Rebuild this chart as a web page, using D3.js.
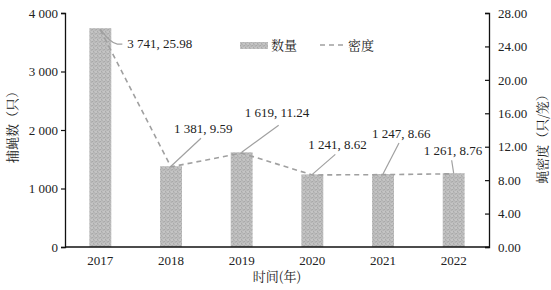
<!DOCTYPE html>
<html><head><meta charset="utf-8">
<script src="https://cdn.jsdelivr.net/npm/d3@7"></script>
<style>
body{margin:0;background:#fff;}
svg{display:block;}
.num{font-family:"Liberation Serif","Times New Roman",serif;font-size:13px;fill:#222;}
.cjk{font-family:"Noto Serif CJK SC","Noto Sans CJK SC",serif;font-size:13px;fill:#222;}
</style></head>
<body><svg id="c" width="551" height="290"></svg>
<script>
const years = ["2017","2018","2019","2020","2021","2022"];
const counts = [3741,1381,1619,1241,1247,1261];
const density = [25.98,9.59,11.24,8.62,8.66,8.76];
const leftTicks = [0,1000,2000,3000,4000];
const rightTicks = [0,4,8,12,16,20,24,28];
// label anchor offsets (layout) relative to the point
const labelPos = [[27,20],[3,-33],[3,-35],[-4,-25],[-11,-36],[-30,-18]];
const leaderEnd = [[17,16],[30,-28],[37,-27],[23,-20],[16,-31],[-2,-13]];

const svg = d3.select("#c");
const M = {l:65, r:489, t:13, b:247};
const x = d3.scaleBand().domain(years).range([M.l,M.r]).paddingInner(0.69).paddingOuter(0.345);
const yL = d3.scaleLinear().domain([0,4000]).range([M.b,M.t]);
const yR = d3.scaleLinear().domain([0,28]).range([M.b,M.t]);

const defs = svg.append("defs");
const pat = defs.append("pattern").attr("id","hatch").attr("patternUnits","userSpaceOnUse")
  .attr("width",4).attr("height",4);
pat.append("rect").attr("width",4).attr("height",4).attr("fill","#c4c4c4");
pat.append("path").attr("d","M2,0.6 L3.4,2 L2,3.4 L0.6,2 Z").attr("fill","#f4f4f4").attr("stroke","#7a7a7a").attr("stroke-width",0.7);

const fmt = v => d3.format(",")(v).replace(/,/g," ");

// bars
svg.append("g").selectAll("rect").data(counts).join("rect")
  .attr("x",(d,i)=>x(years[i])).attr("width",x.bandwidth())
  .attr("y",d=>yL(d)).attr("height",d=>M.b-yL(d))
  .attr("fill","url(#hatch)");

// line
const line = d3.line().x((d,i)=>x(years[i])+x.bandwidth()/2).y(d=>yR(d));
svg.append("path").datum(density).attr("d",line).attr("fill","none")
  .attr("stroke","#a0a0a0").attr("stroke-width",1.6).attr("stroke-dasharray","5,4");

// axes
const gL = svg.append("g").attr("transform",`translate(${M.l},0)`)
  .call(d3.axisLeft(yL).tickValues(leftTicks).tickSize(4).tickPadding(3).tickFormat(fmt));
const gR = svg.append("g").attr("transform",`translate(${M.r},0)`)
  .call(d3.axisRight(yR).tickValues(rightTicks).tickSize(-4).tickPadding(9).tickFormat(d3.format(".2f")));
const gB = svg.append("g").attr("transform",`translate(0,${M.b})`)
  .call(d3.axisBottom(x).tickSize(0).tickPadding(9));
[gL,gR,gB].forEach(g=>{
  g.selectAll("path.domain").attr("stroke","#111").attr("stroke-width",1.3);
  g.selectAll("line").attr("stroke","#111").attr("stroke-width",1.2);
  g.selectAll("text").attr("class","num").attr("font-size",null).attr("font-family",null).attr("fill",null);
});
gB.select("path.domain").attr("d",`M${M.l},0H${M.r}`);

// data labels with leaders
counts.forEach((c,i)=>{
  const px = x(years[i])+x.bandwidth()/2, py = Math.min(yL(c), yR(density[i]));
  const le = leaderEnd[i], lp = labelPos[i];
  if(i===0){
    svg.append("path").attr("d",`M${px},${py+1} Q${px+10},${py+15} ${px+le[0]},${py+le[1]} L${px+le[0]+5},${py+le[1]}`)
      .attr("fill","none").attr("stroke","#a0a0a0").attr("stroke-width",1.2);
  } else {
    svg.append("line").attr("x1",px).attr("y1",py)
      .attr("x2",px+le[0]).attr("y2",py+le[1])
      .attr("stroke","#a0a0a0").attr("stroke-width",1.2);
  }
  svg.append("text").attr("class","num").attr("x",px+lp[0]).attr("y",py+lp[1])
    .text(`${fmt(c)}, ${density[i].toFixed(2)}`);
});

// legend
svg.append("rect").attr("x",240).attr("y",42).attr("width",28).attr("height",7).attr("fill","url(#hatch)");
svg.append("text").attr("class","cjk").attr("x",271).attr("y",50).text("数量");
svg.append("line").attr("x1",320).attr("x2",347).attr("y1",45).attr("y2",45)
  .attr("stroke","#a0a0a0").attr("stroke-width",1.6).attr("stroke-dasharray","5,4");
svg.append("text").attr("class","cjk").attr("x",348).attr("y",50).text("密度");

// axis titles
svg.append("text").attr("class","cjk").attr("text-anchor","middle").attr("dominant-baseline","central")
  .attr("transform","translate(11,124) rotate(-90)").text("捕蝇数（只）");
svg.append("text").attr("class","cjk").attr("text-anchor","middle").attr("dominant-baseline","central")
  .attr("transform","translate(541,136) rotate(-90)").text("蝇密度（只/笼）");
svg.append("text").attr("class","cjk").attr("text-anchor","middle")
  .attr("x",277).attr("y",281).text("时间(年)");
</script></body></html>
